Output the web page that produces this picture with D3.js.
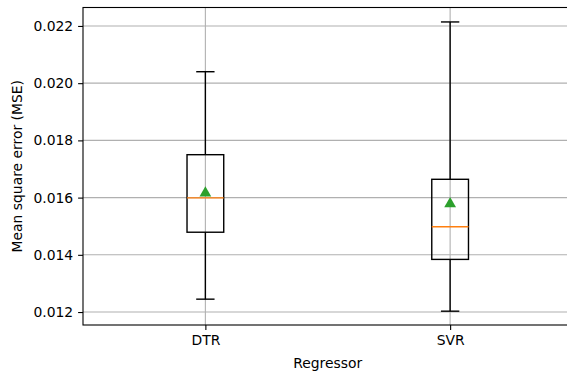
<!DOCTYPE html>
<html>
<head>
<meta charset="utf-8">
<script src="https://cdn.jsdelivr.net/npm/d3@7"></script>
<style>
  body { margin: 0; background: #fff; }
  text { font-family: "DejaVu Sans", sans-serif; fill: #000; }
</style>
</head>
<body>
<svg id="chart" width="567" height="375"></svg>
<script>
// box statistics
const regressors = ["DTR", "SVR"];
const whiskerLow = [0.01245, 0.01203];
const q1 = [0.01479, 0.01384];
const median = [0.01599, 0.01498];
const q3 = [0.01750, 0.01664];
const whiskerHigh = [0.02040, 0.02214];
const means = [0.01616, 0.01578];
const yTicks = [0.012, 0.014, 0.016, 0.018, 0.020, 0.022];

const margin = { left: 83, top: 7.5, right: -5.5, bottom: 50 };
const width = 567, height = 375;
const fontSize = 13.9;
const svg = d3.select("#chart");

const x = d3.scaleLinear().domain([0.5, 2.5]).range([margin.left, width - margin.right]);
const y = d3.scaleLinear().domain([0.011547, 0.022645]).range([height - margin.bottom, margin.top]);
const unit = x(2) - x(1);
const boxW = 0.15 * unit, capW = 0.075 * unit;

// grid
const grid = svg.append("g").attr("stroke", "#b0b0b0").attr("stroke-width", 1.1);
yTicks.forEach(t => grid.append("line")
    .attr("x1", margin.left).attr("x2", width - margin.right)
    .attr("y1", y(t)).attr("y2", y(t)));
regressors.forEach((r, i) => grid.append("line")
    .attr("x1", x(i + 1)).attr("x2", x(i + 1))
    .attr("y1", margin.top).attr("y2", height - margin.bottom));

// boxes
const boxes = svg.append("g");
regressors.forEach((r, i) => {
    const cx = x(i + 1);
    const g = boxes.append("g").attr("stroke", "#000").attr("stroke-width", 1.4).attr("fill", "none");
    g.append("rect")
        .attr("x", cx - boxW / 2).attr("width", boxW)
        .attr("y", y(q3[i])).attr("height", y(q1[i]) - y(q3[i]));
    g.append("line").attr("x1", cx).attr("x2", cx).attr("y1", y(q3[i])).attr("y2", y(whiskerHigh[i]));
    g.append("line").attr("x1", cx).attr("x2", cx).attr("y1", y(q1[i])).attr("y2", y(whiskerLow[i]));
    [whiskerHigh[i], whiskerLow[i]].forEach(v => g.append("line")
        .attr("x1", cx - capW / 2).attr("x2", cx + capW / 2)
        .attr("y1", y(v)).attr("y2", y(v)));
    boxes.append("line")
        .attr("x1", cx - boxW / 2).attr("x2", cx + boxW / 2)
        .attr("y1", y(median[i])).attr("y2", y(median[i]))
        .attr("stroke", "#ff7f0e").attr("stroke-width", 1.4);
    boxes.append("path")
        .attr("d", d3.symbol(d3.symbolTriangle, 60)())
        .attr("transform", `translate(${cx},${y(means[i])})`)
        .attr("fill", "#2ca02c");
});

// axes
const yAxis = svg.append("g")
    .attr("transform", `translate(${margin.left},0)`)
    .call(d3.axisLeft(y).tickValues(yTicks).tickFormat(d3.format(".3f")).tickSize(4.9).tickPadding(4.9));
const xAxis = svg.append("g")
    .attr("transform", `translate(0,${height - margin.bottom})`)
    .call(d3.axisBottom(x).tickValues([1, 2]).tickFormat((d, i) => regressors[i]).tickSize(4.9).tickPadding(4.9));
[xAxis, yAxis].forEach(a => {
    a.select(".domain").remove();
    a.selectAll("line").attr("stroke", "#000").attr("stroke-width", 1.1);
    a.selectAll("text").attr("font-size", fontSize).attr("font-family", "DejaVu Sans");
});

// spines
svg.append("rect")
    .attr("x", margin.left).attr("y", margin.top)
    .attr("width", width - margin.right - margin.left)
    .attr("height", height - margin.bottom - margin.top)
    .attr("fill", "none").attr("stroke", "#000").attr("stroke-width", 1.1);

svg.append("text")
    .attr("x", (margin.left + width - margin.right) / 2).attr("y", 368)
    .attr("text-anchor", "middle").attr("font-size", fontSize)
    .text("Regressor");
svg.append("text")
    .attr("transform", `translate(22,${(margin.top + height - margin.bottom) / 2}) rotate(-90)`)
    .attr("text-anchor", "middle").attr("font-size", fontSize)
    .text("Mean square error (MSE)");
</script>
</body>
</html>
